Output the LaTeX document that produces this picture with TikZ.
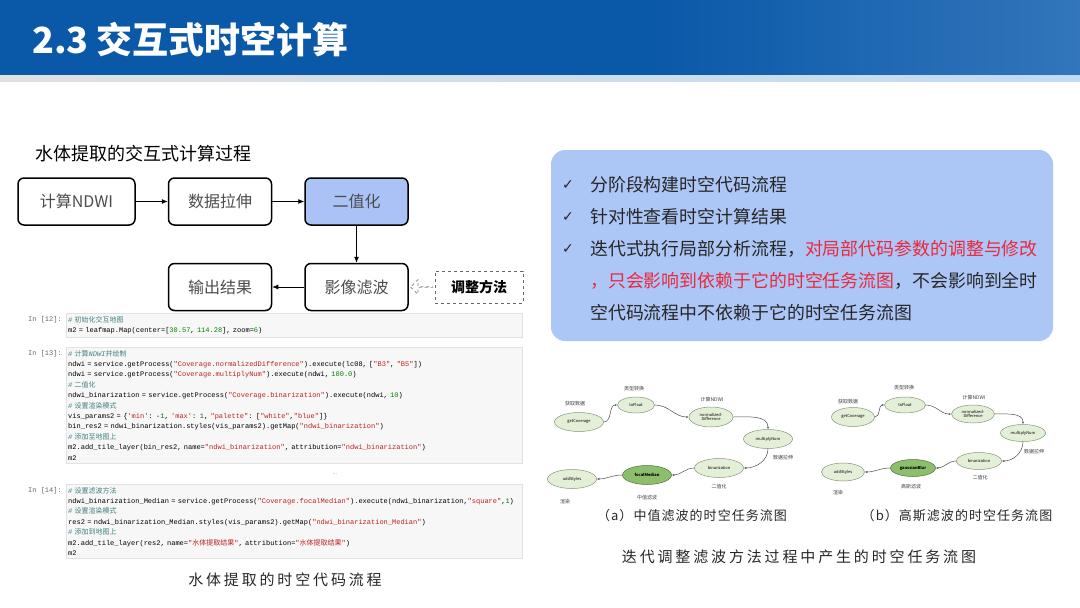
\documentclass[tikz,border=0pt]{standalone}
\usepackage{fontspec}
\setmainfont{Noto Sans CJK SC}
\newfontfamily\cjk{Noto Sans CJK SC}
\newfontfamily\capfont{Noto Sans CJK SC}[LetterSpace=19]
\newfontfamily\subcapfont{Noto Sans CJK SC}[LetterSpace=8]
\newfontfamily\codefont{Liberation Mono}
\newfontfamily\symfont{DejaVu Sans}
\usetikzlibrary{positioning, arrows.meta, shapes.geometric, shapes.arrows, calc}

\definecolor{barA}{RGB}{10,88,168}
\definecolor{barB}{RGB}{100,155,210}
\definecolor{stripblue}{RGB}{150,195,235}
\definecolor{boxblue}{RGB}{170,194,246}
\definecolor{panelblue}{RGB}{172,198,246}
\definecolor{hilite}{RGB}{235,40,60}
\definecolor{cellbg}{RGB}{247,247,247}
\definecolor{cellline}{RGB}{225,225,225}
\definecolor{cmt}{RGB}{64,128,128}
\definecolor{strc}{RGB}{186,33,33}
\definecolor{numc}{RGB}{0,128,0}
\definecolor{gfill}{RGB}{228,239,216}
\definecolor{gline}{RGB}{130,150,120}
\definecolor{gdark}{RGB}{140,190,110}
\definecolor{gdarkline}{RGB}{80,110,60}

\pgfdeclarehorizontalshading{titlebar}{100bp}{color(0bp)=(barA); color(55bp)=(barA); color(100bp)=(barB)}

% code colouring
\newcommand{\ccmt}[1]{\textcolor{cmt}{\itshape #1}}
\newcommand{\cstr}[1]{\textcolor{strc}{#1}}
\newcommand{\cnum}[1]{\textcolor{numc}{#1}}
\newcommand{\zh}[1]{{\cjk #1}}

\begin{document}
\begin{tikzpicture}[x=1pt, y=-1pt,
  stepbox/.style={draw, line width=1.5pt, rounded corners=6pt, minimum width=103pt, minimum height=47pt, text=black!70, font=\fontsize{16}{18}\selectfont},
  flow/.style={line width=0.8pt, -{Latex[length=6pt,width=5pt]}},
  codecell/.style={draw=cellline, fill=cellbg, anchor=north west, text width=452pt, inner xsep=2pt, inner ysep=3pt, align=left, font=\codefont\fontsize{7}{10.4}\selectfont},
  prompt/.style={anchor=north east, inner xsep=0pt, inner ysep=3pt, text=black!60, font=\codefont\fontsize{7}{10.4}\selectfont},
  bullet/.style={anchor=west, inner sep=0pt, text=black!85, font=\fontsize{17.9}{20}\selectfont},
  tick/.style={inner sep=0pt, text=black!85, font=\symfont\fontsize{14}{15}\selectfont},
  gnode/.style={ellipse, draw=gline, fill=gfill, line width=0.5pt, minimum width=49pt, minimum height=19pt, inner sep=0pt, font=\fontsize{4}{4.5}\selectfont},
  gfocus/.style={gnode, fill=gdark, draw=gdarkline, font=\bfseries\fontsize{4}{4.5}\selectfont},
  glabel/.style={inner sep=0pt, text=black!75, font=\fontsize{5}{6}\selectfont},
  gedge/.style={draw=black!70, line width=0.5pt, -{Latex[length=2.5pt,width=2pt]}},
  caption/.style={inner sep=0pt, text=black!85, font=\capfont\fontsize{15}{17}\selectfont},
]
\useasboundingbox (0,0) rectangle (1080,608);

% title bar
\shade[shading=titlebar] (0,0) rectangle (1080,75);
\shade[left color=black!12, middle color=stripblue, right color=stripblue!60] (0,75) rectangle (1080,81);
\node[anchor=west, inner sep=0pt, text=white, font=\bfseries\fontsize{36}{40}\selectfont] (title) at (32,40) {2.3 交互式时空计算};

% interactive process
\node[anchor=west, inner sep=0pt, font=\fontsize{18}{20}\selectfont] (flowtitle) at (35,154) {水体提取的交互式计算过程};
\node[stepbox, minimum width=117pt] (ndwi) at (76.5,201.5) {计算NDWI};
\node[stepbox, right=32pt of ndwi] (stretch) {数据拉伸};
\node[stepbox, fill=boxblue, right=32pt of stretch] (binar) {二值化};
\node[stepbox, below=37pt of binar] (filter) {影像滤波};
\node[stepbox, left=32pt of filter] (output) {输出结果};
\node[draw=black!60, dashed, line width=0.8pt, minimum width=88pt, minimum height=32pt, font=\bfseries\fontsize{14}{16}\selectfont, right=26pt of filter] (adjust) {调整方法};
\node[single arrow, shape border rotate=180, draw=black!50, dashed, line width=0.7pt, minimum height=22pt, minimum width=14pt, single arrow head extend=7pt, inner sep=0pt] (hint) at ($(filter.east)!0.5!(adjust.west)$) {};

\draw[flow] (ndwi) -- (stretch);
\draw[flow] (stretch) -- (binar);
\draw[flow] (binar) -- (filter);
\draw[flow] (filter) -- (output);

% notebook cells
\node[codecell] (cell12) at (66,313) {%
\ccmt{\# \zh{初始化交互地图}}\\
m2 = leafmap.Map(center=[\cnum{30.57}, \cnum{114.28}], zoom=\cnum{6})};
\node[prompt] (in12) at ([xshift=-4pt]cell12.north west) {In [12]:};

\node[codecell] (cell13) at (66,347) {%
\ccmt{\# \zh{计算}NDWI\zh{并绘制}}\\
ndwi = service.getProcess(\cstr{"Coverage.normalizedDifference"}).execute(lc08, [\cstr{"B3"}, \cstr{"B5"}])\\
ndwi = service.getProcess(\cstr{"Coverage.multiplyNum"}).execute(ndwi, \cnum{100.0})\\
\ccmt{\# \zh{二值化}}\\
ndwi\_binarization = service.getProcess(\cstr{"Coverage.binarization"}).execute(ndwi, \cnum{10})\\
\ccmt{\# \zh{设置渲染模式}}\\
vis\_params2 = \{\cstr{'min'}: -\cnum{1}, \cstr{'max'}: \cnum{1}, \cstr{"palette"}: [\cstr{"white"},\cstr{"blue"}]\}\\
bin\_res2 = ndwi\_binarization.styles(vis\_params2).getMap(\cstr{"ndwi\_binarization"})\\
\ccmt{\# \zh{添加至地图上}}\\
m2.add\_tile\_layer(bin\_res2, name=\cstr{"ndwi\_binarization"}, attribution=\cstr{"ndwi\_binarization"})\\
m2};
\node[prompt] (in13) at ([xshift=-4pt]cell13.north west) {In [13]:};

\node[text=black!40, font=\fontsize{6}{6}\selectfont] (more) at (335,474) {...};

\node[codecell] (cell14) at (66,484) {%
\ccmt{\# \zh{设置滤波方法}}\\
ndwi\_binarization\_Median = service.getProcess(\cstr{"Coverage.focalMedian"}).execute(ndwi\_binarization,\cstr{"square"},\cnum{1})\\
\ccmt{\# \zh{设置渲染模式}}\\
res2 = ndwi\_binarization\_Median.styles(vis\_params2).getMap(\cstr{"ndwi\_binarization\_Median"})\\
\ccmt{\# \zh{添加到地图上}}\\
m2.add\_tile\_layer(res2, name=\cstr{"\zh{水体提取结果}"}, attribution=\cstr{"\zh{水体提取结果}"})\\
m2};
\node[prompt] (in14) at ([xshift=-4pt]cell14.north west) {In [14]:};

\node[caption] (codecap) at (285,580) {水体提取的时空代码流程};

% summary panel
\node[fill=panelblue, rounded corners=14pt, minimum width=502pt, minimum height=191pt] (panel) at (802,245.5) {};
\node[tick] (t1) at (568,185) {✓};
\node[tick] (t2) at (568,217) {✓};
\node[tick] (t3) at (568,249) {✓};
\node[bullet] (b1) at (590,185) {分阶段构建时空代码流程};
\node[bullet] (b2) at (590,217) {针对性查看时空计算结果};
\node[bullet] (b3) at (590,249) {迭代式执行局部分析流程，\textcolor{hilite}{对局部代码参数的调整与修改}};
\node[bullet] (b4) at (590,281) {\textcolor{hilite}{，只会影响到依赖于它的时空任务流图}，不会影响到全时};
\node[bullet] (b5) at (590,313) {空代码流程中不依赖于它的时空任务流图};

% task graph (a)
\node[gnode] (a1) at (579,422) {getCoverage};
\node[gnode, minimum width=37pt, minimum height=16pt] (a2) at (636,405) {toFloat};
\node[gnode, minimum width=44pt, minimum height=20pt, align=center] (a3) at (711,417) {normalized-\\Difference};
\node[gnode] (a4) at (768,439) {multiplyNum};
\node[gnode] (a5) at (719,468) {binarization};
\node[gfocus] (a6) at (647,475) {focalMedian};
\node[gnode] (a7) at (572,479) {addStyles};
\node[glabel] (la1) at (575,404) {获取数据};
\node[glabel] (la2) at (634,389) {类型转换};
\node[glabel] (la3) at (712,400) {计算NDWI};
\node[glabel] (la4) at (783,458) {数据拉伸};
\node[glabel] (la5) at (719,487) {二值化};
\node[glabel] (la6) at (647,498) {中值滤波};
\node[glabel] (la7) at (565,502) {渲染};
\draw[gedge] (a1.east) to[out=0, in=180] (a2.west);
\draw[gedge] (a2.east) to[out=0, in=180] (a3.west);
\draw[gedge] (a3.east) to[out=0, in=90] (a4.north);
\draw[gedge] (a4.south) to[out=-90, in=0] (a5.east);
\draw[gedge] (a5.west) to[out=180, in=0] (a6.east);
\draw[gedge] (a6.west) to[out=180, in=0] (a7.east);
\node[inner sep=0pt, text=black!85, font=\subcapfont\fontsize{13}{15}\selectfont] (capa) at (692,516) {（a）中值滤波的时空任务流图};

% task graph (b)
\node[gnode, minimum width=43pt] (b1) at (853,417) {getCoverage};
\node[gnode, minimum width=41pt, minimum height=16pt] (b2) at (905,405) {toFloat};
\node[gnode, minimum width=43pt, minimum height=18pt, align=center] (b3) at (973,414) {normalized-\\Difference};
\node[gnode, minimum width=45pt, minimum height=17pt] (b4) at (1023,433) {multiplyNum};
\node[gnode, minimum width=45pt, minimum height=17pt] (b5) at (979,461) {binarization};
\node[gfocus, minimum width=45pt, minimum height=17pt] (b6) at (913,468) {gaussianBlur};
\node[gnode, minimum width=43pt, minimum height=18pt] (b7) at (843,472) {addStyles};
\node[glabel] (lb1) at (848,402) {获取数据};
\node[glabel] (lb2) at (904,388) {类型转换};
\node[glabel] (lb3) at (974,398) {计算NDWI};
\node[glabel] (lb4) at (1034,452) {数据拉伸};
\node[glabel] (lb5) at (980,478) {二值化};
\node[glabel] (lb6) at (911,487) {高斯滤波};
\node[glabel] (lb7) at (838,493) {渲染};
\draw[gedge] (b1.east) to[out=0, in=180] (b2.west);
\draw[gedge] (b2.east) to[out=0, in=180] (b3.west);
\draw[gedge] (b3.east) to[out=0, in=90] (b4.north);
\draw[gedge] (b4.south) to[out=-90, in=0] (b5.east);
\draw[gedge] (b5.west) to[out=180, in=0] (b6.east);
\draw[gedge] (b6.west) to[out=180, in=0] (b7.east);
\node[inner sep=0pt, text=black!85, font=\subcapfont\fontsize{13}{15}\selectfont] (capb) at (957,516) {（b）高斯滤波的时空任务流图};

\node[caption] (graphcap) at (799,557) {迭代调整滤波方法过程中产生的时空任务流图};
\end{tikzpicture}
\end{document}
